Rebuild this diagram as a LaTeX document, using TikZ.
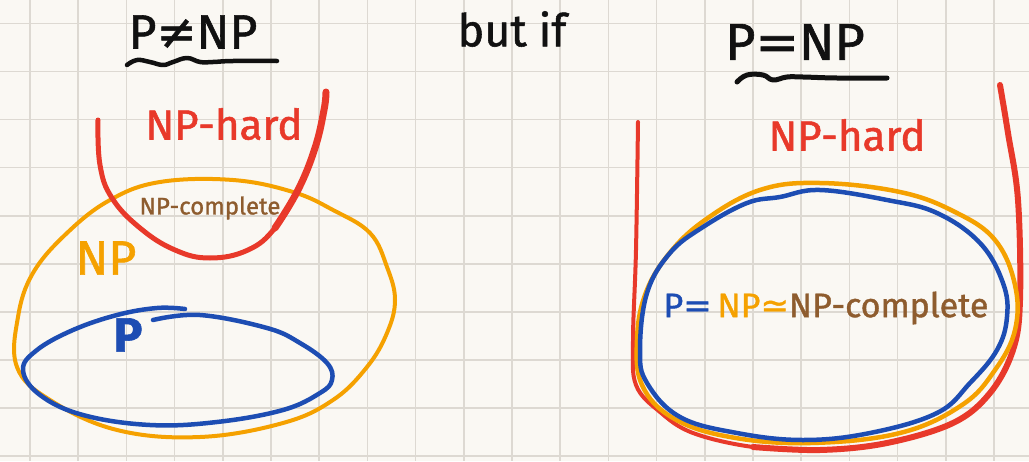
\documentclass[tikz,border=0pt]{standalone}
\usepackage{fontspec}
\setmainfont[FakeBold=1.2]{Fira Sans}
\newfontfamily\symfont[FakeBold=1.2]{DejaVu Sans}
\definecolor{paper}{HTML}{FAF8F3}
\definecolor{gridc}{HTML}{DDD9D2}
\definecolor{hred}{HTML}{E8392A}
\definecolor{horange}{HTML}{F5A100}
\definecolor{hblue}{HTML}{1D4DB3}
\definecolor{hbrown}{HTML}{8E5C2E}
\definecolor{hink}{HTML}{111111}
\tikzset{
  pen/.style={line width=#1, line cap=round, line join=round},
  hand/.style={inner sep=0pt, font=\fontsize{#1}{#1}\selectfont},
}
\begin{document}
\begin{tikzpicture}[x=1pt,y=-1pt]
\useasboundingbox (0,0) rectangle (1029,461);
\fill[paper] (0,0) rectangle (1029,461);
% grid
\foreach \i in {0,...,20} \draw[gridc, line width=1.6pt] ({30+48.2*\i},0) -- ({30+48.2*\i},461);
\foreach \j in {0,...,9} \draw[gridc, line width=1.6pt] (0,{23.3+48.1*\j}) -- (1029,{23.3+48.1*\j});

% ---------- left: P != NP ----------
\node[hand=48pt, text=hink] (t1) at (193,32) {P{\symfont ≠}NP};
\draw[hink, pen=4.5pt] plot[smooth, tension=0.7] coordinates {(127,65) (137,60) (150,62) (163,65) (173,62) (187,58) (200,62) (213,62) (233,61) (277,61)};
\node[hand=45pt, text=hink] (but) at (512,29) {but if};

% orange NP
\draw[horange, pen=4pt] plot[smooth cycle, tension=0.65] coordinates {(160,182) (233,180) (293,192) (333,210) (370,233) (387,267) (395,300) (387,333) (367,367) (333,400) (283,423) (200,437) (117,430) (50,400) (17,367) (18,317) (33,273) (67,233) (110,200)};
% red NP-hard
\draw[hred, pen=5pt] plot[smooth, tension=0.7] coordinates {(98,120) (100,165) (112,198) (140,228) (175,250) (210,258) (248,250) (275,228) (298,190) (315,148) (324,110) (326,92)};
\draw[hred, pen=7pt] plot[smooth, tension=0.7] coordinates {(275,228) (298,190) (315,148) (324,110) (326,92)};
% blue P
\draw[hblue, pen=4.5pt] plot[smooth, tension=0.65] coordinates {(153,320) (200,315) (267,328) (300,343) (327,363) (332,380) (320,393) (283,410) (217,422) (150,425) (83,415) (40,395) (23,370) (37,350) (73,330) (117,315) (157,308) (185,309)};

\node[hand=42pt, text=hred] (h1) at (224,124) {NP-hard};
\node[hand=24pt, text=hbrown] (c1) at (210,208) {NP-complete};
\node[hand=48pt, text=horange] (np1) at (106,258) {NP};
\node[hand=48pt, text=hblue, font=\fontsize{48pt}{48pt}\bfseries] (p1) at (128,335) {P};

% ---------- right: P = NP ----------
\node[hand=52pt, text=hink] (t2) at (795,42) {P{\symfont =}NP};
\draw[hink, pen=5pt] plot[smooth, tension=0.7] coordinates {(737,82) (747,75) (763,75) (773,80) (787,77) (803,77) (837,78) (887,78)};

\draw[hred, pen=4pt] plot[smooth, tension=0.6] coordinates {(638,122) (636,250) (633,340) (636,385) (660,412) (693,433) (753,447) (820,450)};
\draw[hred, pen=6pt] plot[smooth, tension=0.6] coordinates {(753,447) (820,450) (887,443) (953,423) (990,393) (1013,350) (1020,300) (1018,200) (1008,133) (1000,85)};
\draw[horange, pen=4.5pt] plot[smooth cycle, tension=0.65] coordinates {(760,190) (820,183) (900,192) (955,212) (995,240) (1015,285) (1015,330) (995,370) (962,405) (900,433) (810,443) (730,437) (673,418) (642,385) (637,340) (645,295) (668,255) (705,220)};
\draw[hblue, pen=4.5pt] plot[smooth cycle, tension=0.65] coordinates {(780,197) (820,190) (887,200) (937,213) (980,243) (1003,283) (1007,317) (997,350) (970,383) (937,413) (870,433) (803,440) (737,433) (680,417) (647,383) (640,350) (647,293) (670,253) (703,227) (747,203)};

\node[hand=42pt, text=hred] (h2) at (847,135) {NP-hard};
\node[hand=34pt] (eq) at (826,308) {\textcolor{hblue}{P{\symfont =}}\,\textcolor{horange}{NP{\symfont ≃}}\textcolor{hbrown}{NP-complete}};
\end{tikzpicture}
\end{document}
